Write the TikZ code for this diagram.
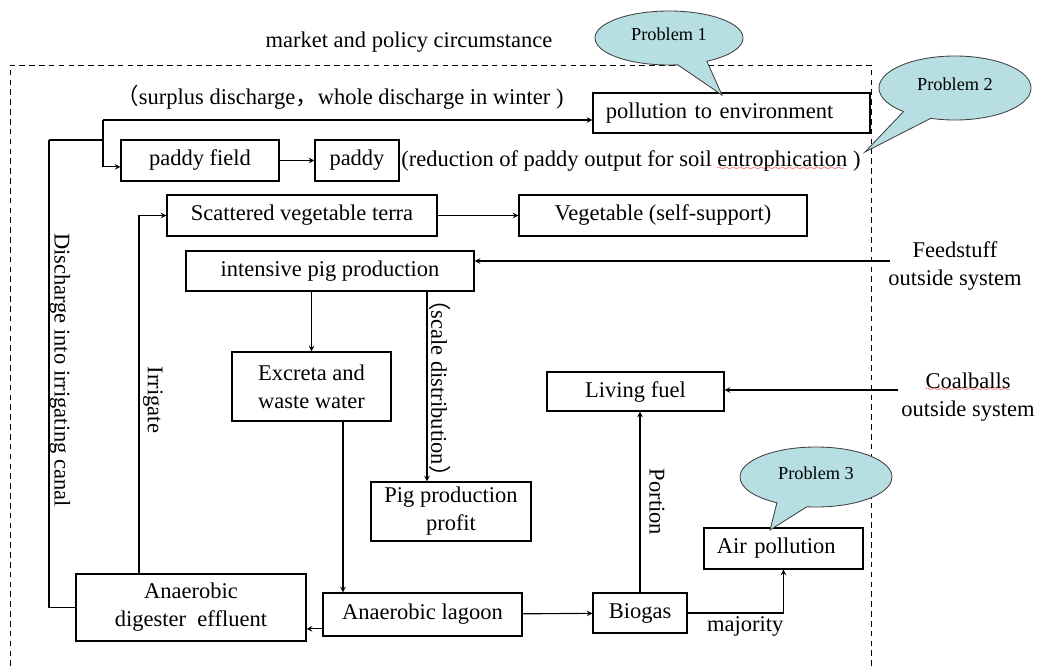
\documentclass[tikz,border=0pt]{standalone}
\usepackage{fontspec}
\setmainfont{Liberation Serif}
\newfontfamily\cjk{Noto Sans CJK SC}
\usetikzlibrary{shapes.callouts}
\definecolor{bubble}{RGB}{183,222,226}
\font\wavefont=lasy6
\newcommand{\squig}[1]{\setbox0\hbox{#1}\rlap{\color{red}\lower2.5pt\hbox to \wd0{\leaders\hbox{\wavefont\char58}\hfil}}#1}

\tikzset{
  box/.style={draw, line width=0.8pt, inner sep=0pt, minimum height=1.025cm},
  arr/.style={-stealth, line width=0.8pt},
  wire/.style={line width=0.8pt},
  problem/.style={ellipse callout, draw=black!75, fill=bubble, line width=0.6pt,
    callout pointer arc=24, font=\fontsize{13}{15}\selectfont},
}

\begin{document}
\begin{tikzpicture}[x=0.025cm, y=-0.025cm, font=\fontsize{16}{20}\selectfont]
\useasboundingbox (0,0) rectangle (1040,666);
% system boundary
\draw[line width=0.6pt, dash pattern=on 4pt off 3pt] (10,666) -- (10,65) -- (871,65) -- (871,666);
\node (market) at (409,42) {market and policy circumstance};
\node (surplus) at (340,97) {{\cjk （}surplus discharge{\cjk ，}whole discharge in winter )};

% boxes
\node[box, minimum width=6.925cm, minimum height=1cm, text width=6.275cm, align=left, inner xsep=0.325cm] (polenv) at (731.5,113) {pollution to environment};
\node[box, minimum width=3.95cm] (field) at (200,160.5) {paddy field};
\node[box, minimum width=2.1cm] (paddy) at (357,160.5) {paddy};
\node[anchor=west, inner sep=0pt] (reduce) at (401,161) {(reduction of paddy output for soil \squig{entrophication} )};
\node[box, minimum width=6.75cm] (terra) at (302,215.5) {Scattered vegetable terra};
\node[box, minimum width=7.2cm] (veg) at (663,215.5) {Vegetable (self-support)};
\node[box, minimum width=7.2cm, minimum height=1cm] (pig) at (330,271) {intensive pig production};
\node[box, minimum width=3.975cm, minimum height=1.725cm, align=center] (excreta) at (311.5,386.5) {Excreta and\\waste water};
\node[box, minimum width=4.425cm, minimum height=0.975cm] (fuel) at (635.5,391.5) {Living fuel};
\node[box, minimum width=4cm, minimum height=1.475cm, align=center] (profit) at (451,511.5) {Pig production\\profit};
\node[box, minimum width=3.975cm, text width=3.325cm, align=left, inner xsep=0.325cm] (air) at (783.5,548.5) {Air pollution};
\node[box, minimum width=5.75cm, minimum height=1.675cm, align=center] (digester) at (191,607.5) {Anaerobic\\digester\ \ effluent};
\node[box, minimum width=4.975cm, minimum height=1.075cm] (lagoon) at (422.5,614.5) {Anaerobic lagoon};
\node[box, minimum width=2.35cm, minimum height=1cm] (biogas) at (640,613) {Biogas};

% inputs from outside
\node[align=center] (feed) at (955,266) {Feedstuff\\outside system};
\node[align=center] (coal) at (968,397) {\squig{Coalballs}\\outside system};
\coordinate (feedin) at (890,261);
\coordinate (coalin) at (898,390);
\draw[arr] (feedin) -- (feedin -| pig.east);
\draw[arr] (coalin) -- (coalin -| fuel.east);

% discharge to paddy and environment
\coordinate (split) at (103,120);
\coordinate (join) at (103,140);
\coordinate (canal) at (49,140);
\draw[arr] (split) -- (split -| polenv.west);
\draw[arr] (split) |- ([yshift=-0.16cm]field.west);
\draw[wire] (canal) -- (join);
\draw[arr] (field) -- (paddy);
\draw[wire] (digester.west) -| (canal);
\node[rotate=-90] (canallbl) at (60,370) {Discharge into irrigating canal};

% irrigation
\draw[arr] (digester.north -| 139,0) |- (terra.west);
\node[rotate=-90] (irrlbl) at (153,400) {Irrigate};
\draw[arr] (terra) -- (veg);

% pig chain
\draw[arr] (excreta.north |- pig.south) -- (excreta.north);
\draw[arr] (pig.south -| 427,0) -- (profit.north -| 427,0);
\node[rotate=-90] (scalelbl) at (440,388) {{\cjk （}scale distribution{\cjk ）}};
\draw[arr] (excreta.south -| 343,0) -- (lagoon.north -| 343,0);
\draw[arr] (lagoon) -- (biogas);
\draw[arr] ([yshift=-0.36cm]lagoon.west) -- ([yshift=-0.36cm]lagoon.west -| digester.east);
\draw[arr] (biogas.east) -| node[pos=0.3, below, inner sep=2pt] (majlbl) {majority} (air.south);
\draw[arr] (biogas.north) -- (biogas.north |- fuel.south);
\node[rotate=-90] (portlbl) at (657,502) {Portion};

% problem callouts
\node[problem, minimum width=3.7cm, minimum height=1.35cm, callout absolute pointer={(722,95)}] (prob1) at (669,38) {\raisebox{5pt}{Problem 1}};
\node[problem, minimum width=3.8cm, minimum height=1.6cm, callout absolute pointer={(865,152)}] (prob2) at (955,88) {\raisebox{5pt}{Problem 2}};
\node[problem, minimum width=3.8cm, minimum height=1.5cm, callout absolute pointer={(770,530)}] (prob3) at (816,477) {\raisebox{5pt}{Problem 3}};
\end{tikzpicture}
\end{document}
